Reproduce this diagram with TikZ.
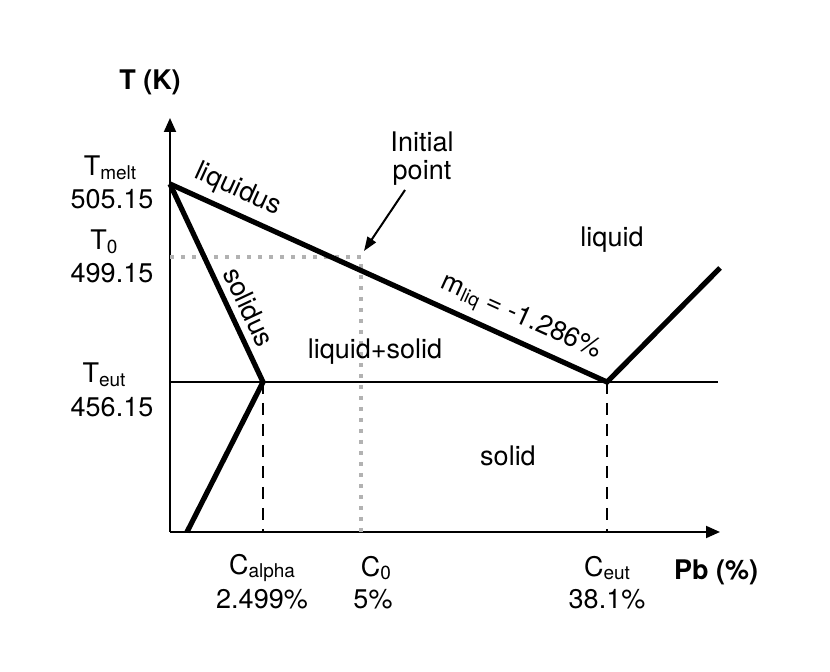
\documentclass[tikz,border=0pt]{standalone}
\usepackage{fontspec}
\setmainfont{TeX Gyre Heros}
\usetikzlibrary{arrows.meta}
\newcommand{\lowsub}[1]{\raisebox{-0.25ex}{\fontsize{9.5}{10}\selectfont #1}}
\tikzset{
  thickline/.style={line width=2.6pt},
  axisline/.style={line width=1pt},
  dashline/.style={line width=1pt, dash pattern=on 6pt off 4.5pt},
  dotline/.style={line width=2pt, draw=gray!60, dash pattern=on 2pt off 3.5pt},
  lbl/.style={font=\fontsize{13.5}{15}\selectfont, inner sep=0pt, align=center},
  boldlbl/.style={font=\fontsize{13.5}{15}\selectfont\bfseries, inner sep=0pt}
}
\begin{document}
\begin{tikzpicture}[x=0.5pt,y=-0.5pt]
\useasboundingbox (0,0) rectangle (830,672);
% key points
\coordinate (O) at (170,532);
\coordinate (ytip) at (170,118);
\coordinate (xtip) at (720,532);
\coordinate (melt) at (170,184);
\coordinate (eut) at (607,382);
\coordinate (alpha) at (263,382);
\coordinate (eutL) at (170,382);
\coordinate (eutR) at (718,382);
\coordinate (rliq) at (720,268);
\coordinate (solvB) at (187,532);
\coordinate (alphaB) at (263,532);
\coordinate (eutB) at (607,532);
\coordinate (T0L) at (170,257);
\coordinate (init) at (361,257);
\coordinate (C0B) at (361,532);
\coordinate (arrS) at (405,190);
\coordinate (arrE) at (364,251);
% axes
\draw[axisline,-{Triangle[length=7pt,width=6pt]}] (O) -- (ytip);
\draw[axisline,-{Triangle[length=7pt,width=6pt]}] (O) -- (xtip);
% eutectic line
\draw[axisline] (eutL) -- (eutR);
% dashed verticals
\draw[dashline] (alpha) -- (alphaB);
\draw[dashline] (eut) -- (eutB);
% dotted initial
\draw[dotline] (T0L) -- (init) -- (C0B);
% phase lines
\draw[thickline] (melt) -- (eut) -- (rliq);
\draw[thickline] (melt) -- (alpha) -- (solvB);
% initial point arrow
\draw[line width=1pt,-{Triangle[length=7pt,width=5pt]}] (arrS) -- (arrE);
% labels
\node[boldlbl] (TK) at (150,82) {T (K)};
\node[boldlbl] (Pb) at (716,572) {Pb (\%)};
\node[lbl] (tmelt) at (110,168) {T\lowsub{melt}};
\node[lbl] (vmelt) at (112,199) {505.15};
\node[lbl] (tzero) at (104,242) {T\lowsub{0}};
\node[lbl] (vzero) at (112,273) {499.15};
\node[lbl] (teut) at (104,375) {T\lowsub{eut}};
\node[lbl] (veut) at (112,407) {456.15};
\node[lbl] (calpha) at (262,568) {C\lowsub{alpha}};
\node[lbl] (valpha) at (262,599) {2.499\%};
\node[lbl] (czero) at (376,568) {C\lowsub{0}};
\node[lbl] (vczero) at (373,599) {5\%};
\node[lbl] (ceut) at (607,568) {C\lowsub{eut}};
\node[lbl] (vceut) at (607,599) {38.1\%};
\node[lbl] (initlbl) at (422,159) {Initial\\[-1pt]point};
\node[lbl] (liq) at (612,240) {liquid};
\node[lbl] (liqsol) at (375,352) {liquid+solid};
\node[lbl] (sol) at (508,456) {solid};
\node[lbl,rotate=-24.4] (liqlbl) at (238,190) {liquidus};
\node[lbl,rotate=-64.8] (sollbl) at (249,307) {solidus};
\node[lbl,rotate=-24.4] (mliq) at (521,318) {m\lowsub{liq} = -1.286\%};
\end{tikzpicture}
\end{document}
